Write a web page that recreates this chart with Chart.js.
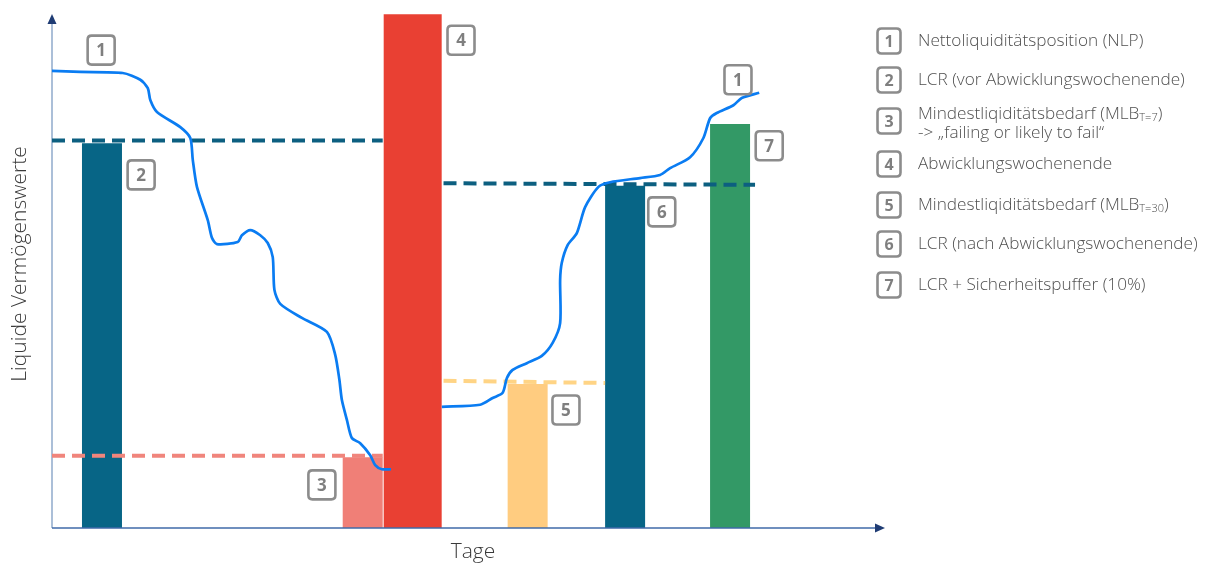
<!DOCTYPE html>
<html>
<head>
<meta charset="utf-8">
<script src="https://cdn.jsdelivr.net/npm/chart.js@4.4.1/dist/chart.umd.min.js"></script>
<style>
  html, body { margin: 0; padding: 0; background: #ffffff; }
  #wrap { width: 1206px; height: 565px; position: relative; }
</style>
</head>
<body>
<div id="wrap"><canvas id="c" width="1206" height="565"></canvas></div>
<script>
// Net liquidity position before the resolution weekend (days, value)
const nlpBeforeDays   = [0, 3.4, 8.5, 10.6, 11.5, 11.8, 12.6, 15.4, 16.6, 16.9, 17.4, 18.7, 19.2, 19.8, 22.3, 22.8, 23.8, 25.0, 25.9, 26.5, 26.7, 27.4, 30.0, 33.0, 34.0, 34.5, 34.8, 35.4, 36.0, 37.0, 38.2, 38.8, 39.6, 40.7];
const nlpBeforeValues = [87.9, 87.7, 87.5, 86.2, 84.6, 82.3, 80.0, 77.1, 75.0, 70.8, 65.6, 59.2, 55.8, 54.6, 55.0, 56.3, 57.3, 56.3, 54.8, 52.1, 45.8, 43.1, 40.4, 37.7, 33.3, 28.5, 24.6, 20.8, 17.3, 16.3, 14.0, 12.1, 11.3, 11.3];

// Net liquidity position after the resolution weekend
const nlpAfterDays   = [46.8, 51.4, 52.9, 54.1, 54.6, 55.3, 57.0, 58.8, 60.1, 61.0, 61.0, 61.2, 61.9, 63.0, 64.0, 65.6, 67.0, 70.6, 73.0, 74.2, 76.6, 78.2, 79.0, 79.8, 81.8, 82.8, 84.9];
const nlpAfterValues = [23.3, 23.7, 25.0, 26.0, 28.8, 30.4, 31.7, 33.1, 35.6, 39.4, 47.7, 51.0, 54.4, 56.7, 61.7, 65.6, 66.5, 67.3, 67.9, 69.2, 71.3, 75.0, 78.8, 79.8, 81.3, 82.7, 83.7];

// Bars: LCR before, MLB T=7, MLB T=30, LCR after, LCR + buffer (day, level)
const barDays   = [6.0, 37.3, 57.1, 68.8, 81.4];
const barValues = [74.0, 13.6, 27.7, 65.8, 77.7];
// Resolution weekend block
const weekendDay   = 43.3;
const weekendValue = 98.8;

// Reference levels drawn as dashed lines (start day, end day, level at start, level at end)
const lcrPreDays  = [0, 39.7];    const lcrPreLevels  = [74.5, 74.5];
const mlb7Days    = [0, 39.7];    const mlb7Levels    = [13.9, 13.9];
const mlb30Days   = [47.0, 66.4]; const mlb30Levels   = [28.3, 27.9];
const lcrPostDays = [47.0, 84.4]; const lcrPostLevels = [66.3, 66.0];

// Numbered markers inside the plot
const markerNums   = ['1', '2', '3', '4', '5', '6', '1', '7'];
const markerDays   = [5.9, 10.7, 32.4, 49.1, 61.7, 73.2, 82.35, 86.1];
const markerLevels = [91.9, 67.9, 8.3, 93.8, 22.7, 60.8, 86.2, 73.5];

// Legend entries: number, text, optional subscript, tail after subscript
const legendNums  = ['1', '2', '3', '4', '5', '6', '7'];
const legendMain  = ['Nettoliquiditätsposition (NLP)', 'LCR (vor Abwicklungswochenende)', 'Mindestliqiditätsbedarf (MLB', 'Abwicklungswochenende', 'Mindestliqiditätsbedarf (MLB', 'LCR (nach Abwicklungswochenende)', 'LCR + Sicherheitspuffer (10%)'];
const legendSub   = ['', '', 'T=7', '', 'T=30', '', ''];
const legendTail  = ['', '', ')', '', ')', '', ''];
const legendExtra = ['', '', '-> \u201Efailing or likely to fail\u201C', '', '', '', ''];

const pts = (xs, ys) => xs.map((x, i) => ({ x: x, y: ys[i] }));

const FONT = '"Open Sans", "Noto Sans", sans-serif';

function badge(ctx, cx, cy, w, h, label, fontSize) {
  const r = 4;
  const x = cx - w / 2, y = cy - h / 2;
  ctx.save();
  ctx.fillStyle = '#ffffff';
  ctx.strokeStyle = '#8c8c8c';
  ctx.lineWidth = 2.6;
  ctx.beginPath();
  ctx.moveTo(x + r, y);
  ctx.lineTo(x + w - r, y);
  ctx.quadraticCurveTo(x + w, y, x + w, y + r);
  ctx.lineTo(x + w, y + h - r);
  ctx.quadraticCurveTo(x + w, y + h, x + w - r, y + h);
  ctx.lineTo(x + r, y + h);
  ctx.quadraticCurveTo(x, y + h, x, y + h - r);
  ctx.lineTo(x, y + r);
  ctx.quadraticCurveTo(x, y, x + r, y);
  ctx.closePath();
  ctx.fill();
  ctx.stroke();
  ctx.fillStyle = '#7f7f7f';
  ctx.font = 'bold ' + fontSize + 'px ' + FONT;
  ctx.textAlign = 'center';
  ctx.textBaseline = 'middle';
  ctx.fillText(label, cx, cy + 1);
  ctx.restore();
}

// Axes with arrow heads, axis titles, in-plot markers and the side legend
const decorations = {
  id: 'decorations',
  beforeDatasetsDraw(chart) {
    const ctx = chart.ctx;
    const a = chart.chartArea;
    ctx.save();
    // y axis
    ctx.strokeStyle = '#8faacb';
    ctx.lineWidth = 1.5;
    ctx.beginPath();
    ctx.moveTo(a.left, a.bottom);
    ctx.lineTo(a.left, a.top + 12);
    ctx.stroke();
    ctx.fillStyle = '#1f3c74';
    ctx.beginPath();
    ctx.moveTo(a.left, a.top + 6);
    ctx.lineTo(a.left - 4.5, a.top + 16);
    ctx.lineTo(a.left + 4.5, a.top + 16);
    ctx.closePath();
    ctx.fill();
    ctx.restore();
  },
  afterDatasetsDraw(chart) {
    const ctx = chart.ctx;
    const a = chart.chartArea;
    const xs = chart.scales.x, ys = chart.scales.y;
    ctx.save();
    // x axis
    ctx.strokeStyle = '#3f6aa8';
    ctx.lineWidth = 1.5;
    ctx.beginPath();
    ctx.moveTo(a.left, a.bottom);
    ctx.lineTo(a.right - 8, a.bottom);
    ctx.stroke();
    ctx.fillStyle = '#1f3c74';
    ctx.beginPath();
    ctx.moveTo(a.right, a.bottom);
    ctx.lineTo(a.right - 10, a.bottom - 4.5);
    ctx.lineTo(a.right - 10, a.bottom + 4.5);
    ctx.closePath();
    ctx.fill();

    // axis titles
    ctx.fillStyle = '#3a3a3a';
    ctx.font = '300 21px ' + FONT;
    ctx.textAlign = 'center';
    ctx.textBaseline = 'middle';
    ctx.fillText('Tage', 473, 552);
    ctx.save();
    ctx.translate(20, 264);
    ctx.rotate(-Math.PI / 2);
    ctx.fillText('Liquide Vermögenswerte', 0, 0);
    ctx.restore();

    // numbered markers
    markerNums.forEach((n, i) => {
      badge(ctx, xs.getPixelForValue(markerDays[i]), ys.getPixelForValue(markerLevels[i]), 27, 29, n, 17);
    });

    // legend
    const legendY = [41, 80, 114, 164, 205, 244, 285];
    const badgeY  = [41, 80, 121, 164, 205, 244, 285];
    const textX = 918;
    const mainFont = '300 17.2px ' + FONT;
    legendNums.forEach((n, i) => {
      badge(ctx, 889, badgeY[i], 23, 25, n, 16);
      ctx.fillStyle = '#505050';
      ctx.font = mainFont;
      ctx.textAlign = 'left';
      ctx.textBaseline = 'middle';
      ctx.fillText(legendMain[i], textX, legendY[i]);
      let x = textX + ctx.measureText(legendMain[i]).width;
      if (legendSub[i]) {
        ctx.font = '300 11px ' + FONT;
        ctx.fillText(legendSub[i], x, legendY[i] + 4);
        x += ctx.measureText(legendSub[i]).width;
        ctx.font = mainFont;
        ctx.fillText(legendTail[i], x, legendY[i]);
      }
      if (legendExtra[i]) {
        ctx.fillText(legendExtra[i], textX, legendY[i] + 19);
      }
    });
    ctx.restore();
  }
};

const lineBase = { type: 'line', pointRadius: 0, fill: false, tension: 0.25, borderCapStyle: 'butt' };
const dashBase = { type: 'line', pointRadius: 0, fill: false, tension: 0, borderWidth: 4, borderDash: [13, 7], borderCapStyle: 'butt' };
const barBase  = { type: 'bar', grouped: false, barPercentage: 2, categoryPercentage: 1, borderWidth: 0 };

new Chart(document.getElementById('c'), {
  type: 'bar',
  data: {
    datasets: [
      Object.assign({}, lineBase, { label: 'NLP vor', data: pts(nlpBeforeDays, nlpBeforeValues), borderColor: '#0a7cf2', borderWidth: 2.7 }),
      Object.assign({}, lineBase, { label: 'NLP nach', data: pts(nlpAfterDays, nlpAfterValues), borderColor: '#0a7cf2', borderWidth: 2.7 }),
      Object.assign({}, dashBase, { label: 'LCR vor', data: pts(lcrPreDays, lcrPreLevels), borderColor: '#0c5f80' }),
      Object.assign({}, dashBase, { label: 'MLB T=7', data: pts(mlb7Days, mlb7Levels), borderColor: '#f0857c' }),
      Object.assign({}, dashBase, { label: 'MLB T=30', data: pts(mlb30Days, mlb30Levels), borderColor: '#ffd485' }),
      Object.assign({}, dashBase, { label: 'LCR nach', data: pts(lcrPostDays, lcrPostLevels), borderColor: '#0c5f80' }),
      Object.assign({}, barBase, {
        label: 'Kennzahlen',
        data: pts(barDays, barValues),
        backgroundColor: ['#076586', '#f07f77', '#ffcc80', '#076586', '#339966'],
        maxBarThickness: 40
      }),
      Object.assign({}, barBase, {
        label: 'Abwicklungswochenende',
        data: [{ x: weekendDay, y: weekendValue }],
        backgroundColor: '#e94033',
        maxBarThickness: 58
      })
    ]
  },
  options: {
    responsive: false,
    animation: false,
    events: [],
    layout: { padding: { left: 52, top: 8, right: 321, bottom: 37 } },
    plugins: { legend: { display: false }, tooltip: { enabled: false }, title: { display: false } },
    scales: {
      x: { type: 'linear', min: 0, max: 100, offset: false, display: false, grid: { display: false } },
      y: { type: 'linear', min: 0, max: 100, display: false, grid: { display: false } }
    }
  },
  plugins: [decorations]
});
</script>
</body>
</html>
